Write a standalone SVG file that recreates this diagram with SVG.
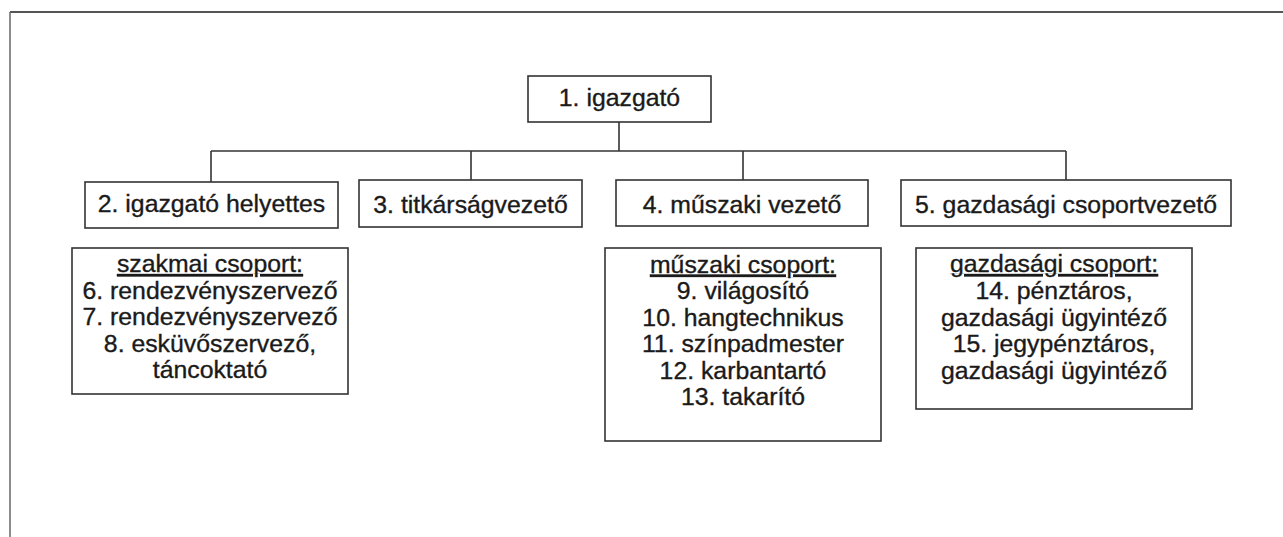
<svg xmlns="http://www.w3.org/2000/svg" width="1283" height="537" viewBox="0 0 1283 537">
<style>
.box{fill:#fff;stroke:#333;stroke-width:1.6}
.ln{fill:none;stroke:#333;stroke-width:1.6}
text{font-family:"Liberation Sans",Arial,sans-serif;font-size:24.8px;fill:#1a1a1a;stroke:#1a1a1a;stroke-width:0.35;text-anchor:middle}
.u{text-decoration:underline}
</style>
<rect width="1283" height="537" fill="#fff"/>
<g id="frame">
<line x1="10" y1="12" x2="1283" y2="12" stroke="#555" stroke-width="2"/>
<line x1="10" y1="12" x2="10" y2="537" stroke="#666" stroke-width="1.5"/>
</g>
<g id="connectors">
<line class="ln" x1="619" y1="122" x2="619" y2="151"/>
<line class="ln" x1="211" y1="151" x2="1066" y2="151"/>
<line class="ln" x1="211" y1="151" x2="211" y2="182"/>
<line class="ln" x1="471" y1="151" x2="471" y2="180"/>
<line class="ln" x1="743" y1="151" x2="743" y2="180"/>
<line class="ln" x1="1066" y1="151" x2="1066" y2="180"/>
</g>
<g id="n1">
<rect class="box" x="528" y="76" width="183" height="46"/>
<text x="619.5" y="106">1. igazgató</text>
</g>
<g id="n2">
<rect class="box" x="85" y="182" width="253" height="46"/>
<text x="211.5" y="212">2. igazgató helyettes</text>
</g>
<g id="n3">
<rect class="box" x="359" y="180" width="223" height="47"/>
<text x="470.5" y="212.5">3. titkárságvezető</text>
</g>
<g id="n4">
<rect class="box" x="616" y="180" width="252" height="46"/>
<text x="742" y="213">4. műszaki vezető</text>
</g>
<g id="n5">
<rect class="box" x="901" y="180" width="330" height="46"/>
<text x="1066" y="213">5. gazdasági csoportvezető</text>
</g>
<g id="gA">
<rect class="box" x="72" y="248" width="276" height="146"/>
<text x="210" y="272" class="u">szakmai csoport:</text>
<text x="210" y="298.5">6. rendezvényszervező</text>
<text x="210" y="325">7. rendezvényszervező</text>
<text x="210" y="351.5">8. esküvőszervező,</text>
<text x="210" y="378">táncoktató</text>
</g>
<g id="gB">
<rect class="box" x="605" y="248" width="276" height="193"/>
<text x="743" y="272.5" class="u">műszaki csoport:</text>
<text x="743" y="299">9. világosító</text>
<text x="743" y="325.5">10. hangtechnikus</text>
<text x="743" y="352">11. színpadmester</text>
<text x="743" y="378.5">12. karbantartó</text>
<text x="743" y="405">13. takarító</text>
</g>
<g id="gC">
<rect class="box" x="916" y="248" width="276" height="161"/>
<text x="1054" y="272" class="u">gazdasági csoport:</text>
<text x="1054" y="299">14. pénztáros,</text>
<text x="1054" y="325.5">gazdasági ügyintéző</text>
<text x="1054" y="352">15. jegypénztáros,</text>
<text x="1054" y="378.5">gazdasági ügyintéző</text>
</g>
</svg>
